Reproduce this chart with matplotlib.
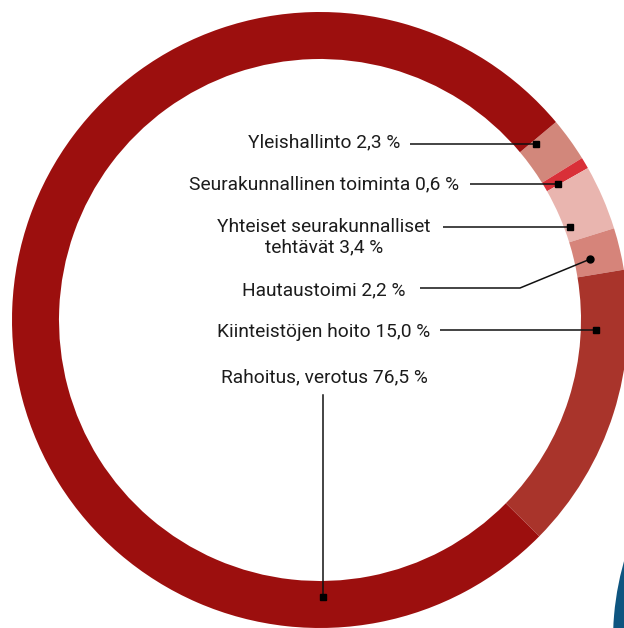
import matplotlib
matplotlib.use("Agg")
import matplotlib.pyplot as plt
import numpy as np
from matplotlib.patches import Wedge

# ---- data ----
categories = ["Yleishallinto", "Seurakunnallinen toiminta", "Yhteiset seurakunnalliset\ntehtävät",
              "Hautaustoimi", "Kiinteistöjen hoito", "Rahoitus, verotus"]
values = [2.3, 0.6, 3.4, 2.2, 15.0, 76.5]
value_labels = ["2,3 %", "0,6 %", "3,4 %", "2,2 %", "15,0 %", "76,5 %"]
colors = ["#D2877B", "#D93038", "#E9B5AF", "#D6847A", "#A9342B", "#9C0F0E"]

W, H = 624, 628
fig = plt.figure(figsize=(W / 100, H / 100), dpi=100)
ax = fig.add_axes([0, 0, 1, 1])

cx, cy, R, ring = 320, H - 320, 308, 47
ax.pie(values, colors=colors, startangle=40, counterclock=False, radius=R,
       center=(cx, cy), wedgeprops=dict(width=ring, edgecolor="none", linewidth=0))

# decorative neighbouring ring (bottom-right corner)
ax.add_patch(Wedge((900, H - 640), 287, 150, 200, width=40, facecolor="#0E5580", edgecolor="none"))

ax.set_xlim(0, W)
ax.set_ylim(0, H)
ax.set_aspect("equal")
ax.axis("off")

# ---- labels and leaders (image-pixel layout) ----
text_x = 324
label_y = [142, 184, 237, 290, 332, 377]
leader_y = [144, 184, 227, 288, 330, None]
line_start = [410, 470, 443, 420, 440, None]
marker_r = [279, 274, 267, 277, 276, 277]
font = dict(family=["Roboto", "DejaVu Sans"], fontsize=13.8, color="#1c1c1c")

for i, (cat, vl) in enumerate(zip(categories, value_labels)):
    ax.text(text_x, H - label_y[i], f"{cat} {vl}", ha="center", va="center",
            linespacing=1.15, **font)

for i in range(5):
    if i == 3:
        # Hautaustoimi: horizontal then diagonal to a dot
        ang = np.deg2rad(12.7)
        mx, my = cx + marker_r[i] * np.cos(ang), cy + marker_r[i] * np.sin(ang)
        ax.plot([line_start[i], 520, mx], [H - leader_y[i], H - leader_y[i], my],
                color="#111111", lw=1.1, solid_capstyle="butt")
        ax.plot(mx, my, "o", color="black", ms=5)
    else:
        dy = cy - (H - leader_y[i])
        mx = cx + np.sqrt(marker_r[i] ** 2 - dy ** 2)
        ax.plot([line_start[i], mx], [H - leader_y[i], H - leader_y[i]],
                color="#111111", lw=1.1, solid_capstyle="butt")
        ax.plot(mx, H - leader_y[i], "s", color="black", ms=5)

# Rahoitus: vertical leader down to the ring
mx, my = cx + 3, cy - marker_r[5]
ax.plot([mx, mx], [H - 395, my], color="#111111", lw=1.1)
ax.plot(mx, my, "s", color="black", ms=5)

fig.savefig("out.png", dpi=100, facecolor="white")
